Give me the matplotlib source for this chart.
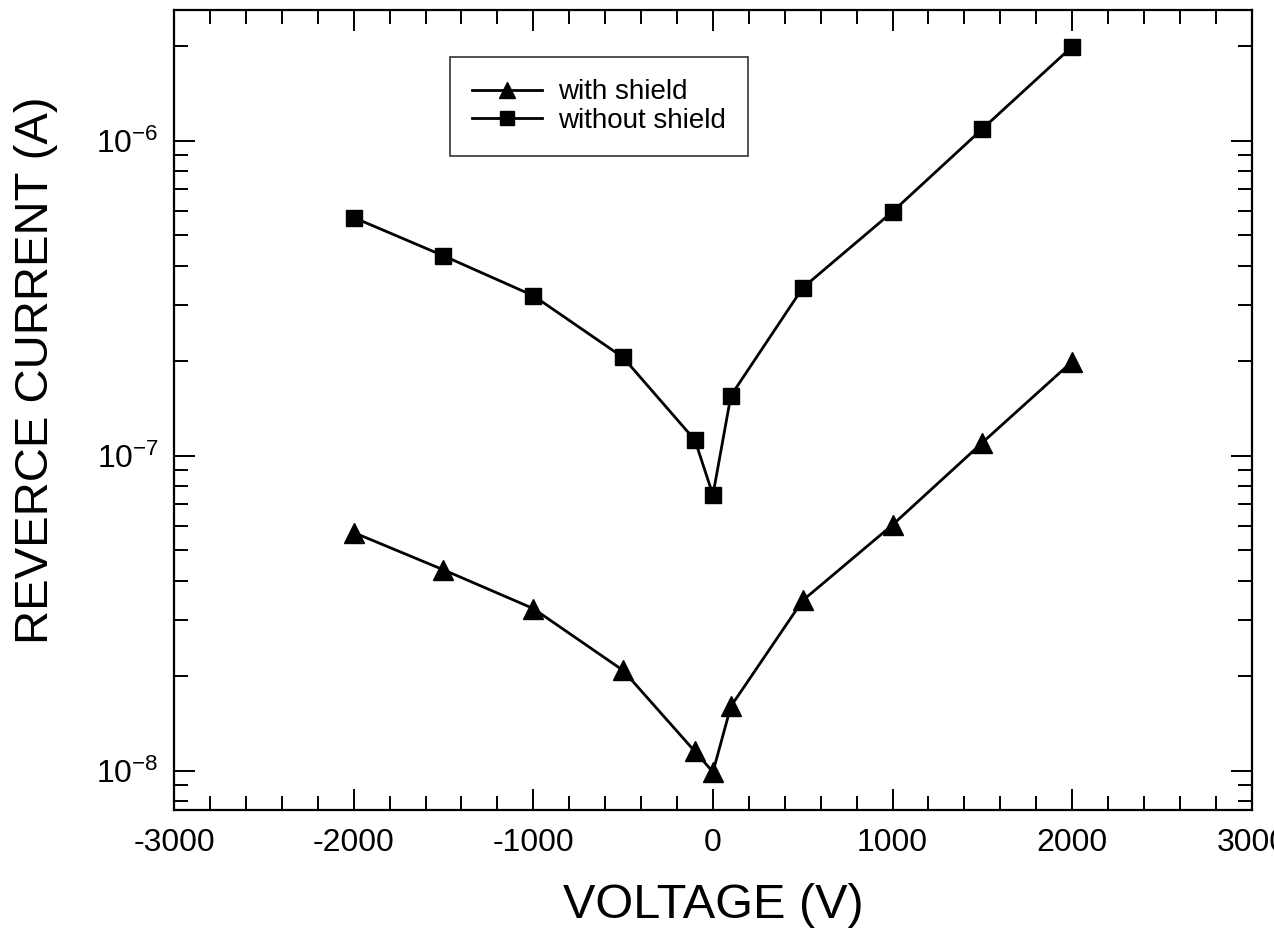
import matplotlib
matplotlib.use("Agg")
import matplotlib.pyplot as plt
from matplotlib.ticker import MultipleLocator, LogLocator, NullFormatter

plt.rcParams['font.family'] = ['Liberation Sans', 'DejaVu Sans']
plt.rcParams['mathtext.fontset'] = 'custom'
plt.rcParams['mathtext.rm'] = 'Liberation Sans'
plt.rcParams['mathtext.it'] = 'Liberation Sans'
plt.rcParams['axes.unicode_minus'] = False

voltage = [-2000, -1500, -1000, -500, -100, 0, 100, 500, 1000, 1500, 2000]
with_shield = [5.7e-8, 4.34e-8, 3.27e-8, 2.08e-8, 1.15e-8, 9.9e-9, 1.6e-8, 3.47e-8, 6.03e-8, 1.1e-7, 1.99e-7]
without_shield = [5.7e-7, 4.31e-7, 3.22e-7, 2.05e-7, 1.12e-7, 7.5e-8, 1.55e-7, 3.41e-7, 5.95e-7, 1.09e-6, 1.99e-6]

fig = plt.figure(figsize=(12.74, 9.31), dpi=100)
ax = fig.add_axes([0.1366, 0.13, 0.846, 0.8593])

ax.plot(voltage, with_shield, color='black', linewidth=2, marker='^', markersize=14,
        label='with shield')
ax.plot(voltage, without_shield, color='black', linewidth=2, marker='s', markersize=12,
        label='without shield')

ax.set_yscale('log')
ax.set_xlim(-3000, 3000)
ax.set_ylim(7.5e-9, 2.6e-6)

ax.xaxis.set_major_locator(MultipleLocator(1000))
ax.xaxis.set_minor_locator(MultipleLocator(200))
ax.yaxis.set_major_locator(LogLocator(base=10, numticks=10))
ax.yaxis.set_minor_locator(LogLocator(base=10, subs=range(2, 10), numticks=10))
ax.yaxis.set_minor_formatter(NullFormatter())

ax.tick_params(which='both', direction='in', top=True, right=True, width=1.4, labelsize=23)
ax.tick_params(which='major', length=15)
ax.tick_params(which='minor', length=10)
ax.tick_params(axis='x', which='major', pad=13)
ax.tick_params(axis='y', which='major', pad=11)
for s in ax.spines.values():
    s.set_linewidth(1.6)

ax.set_xlabel('VOLTAGE (V)', fontsize=35, labelpad=18)
ax.set_ylabel('REVERCE CURRENT (A)', fontsize=34)
ax.yaxis.set_label_coords(-0.108, 0.55)

leg = ax.legend(loc='upper left', bbox_to_anchor=(0.256, 0.941), fontsize=20,
                frameon=True, fancybox=False, edgecolor='black', handlelength=2.5,
                borderpad=0.8, labelspacing=0.1, handletextpad=0.6, markerscale=0.85,
                borderaxespad=0)
leg.get_frame().set_linewidth(1.2)

fig.savefig('out.png', dpi=100)
